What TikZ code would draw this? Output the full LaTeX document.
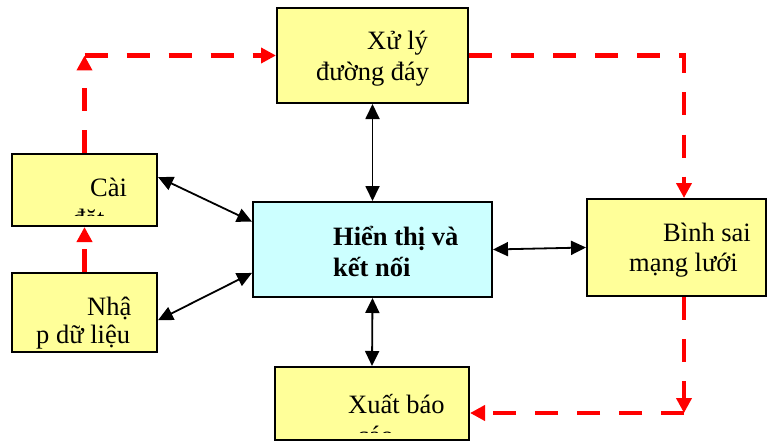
\documentclass[tikz,border=0pt]{standalone}
\usepackage{fontspec}
\setmainfont{Liberation Serif}
\usetikzlibrary{arrows.meta}
\definecolor{boxyellow}{HTML}{FFFF99}
\definecolor{boxcyan}{HTML}{CCFFFF}
\begin{document}
\begin{tikzpicture}[x=1pt,y=-1pt,
  box/.style={draw=black,line width=2pt,rectangle,inner sep=0pt},
  ybox/.style={box,fill=boxyellow},
  cbox/.style={box,fill=boxcyan},
  txt/.style={inner sep=0pt,anchor=base west,font=\fontsize{26.5}{30}\selectfont},
  btxt/.style={txt,font=\fontsize{26.5}{30}\selectfont\bfseries},
  link/.style={draw=black,line width=1.8pt,{Triangle[length=15pt,width=14pt]}-{Triangle[length=15pt,width=14pt]}},
  flow/.style={draw=red,line width=4.5pt,dash pattern=on 23pt off 19pt},
  flowtip/.style={flow,-{Triangle[length=15pt,width=15pt]}}
]
\useasboundingbox (0,0) rectangle (770,441);
% boxes
\node[ybox,minimum width=191pt,minimum height=95pt] (xuly) at (372.5,55.5) {};
\node[ybox,minimum width=145pt,minimum height=72pt] (cai) at (84.5,190) {};
\node[ybox,minimum width=145pt,minimum height=79pt] (nhap) at (84.5,312.5) {};
\node[cbox,minimum width=239pt,minimum height=95pt] (hien) at (372.5,249.5) {};
\node[ybox,minimum width=179pt,minimum height=97pt] (binh) at (676.5,247.5) {};
\node[ybox,minimum width=194pt,minimum height=73pt] (xuat) at (372,403.5) {};
% texts
\node[txt] (t1) at (367,50) {Xử lý};
\node[txt] (t2) at (316,81) {đường đáy};
\begin{scope}
  \clip (14,156) rectangle (155,215);
  \node[txt] (t3) at (90,196) {Cài};
  \node[txt] (t4) at (72,227) {đặt};
\end{scope}
\node[txt] (t5) at (87,315) {Nhậ};
\node[txt] (t6) at (36,343) {p dữ liệu};
\node[btxt] (t7) at (333,245) {Hiển thị và};
\node[btxt] (t8) at (333,276) {kết nối};
\node[txt] (t9) at (663,241) {Bình sai};
\node[txt] (t10) at (629,271) {mạng lưới};
\begin{scope}
  \clip (277,369) rectangle (467,432);
  \node[txt] (t11) at (348,413) {Xuất báo};
  \node[txt] (t12) at (357,444) {cáo};
\end{scope}
% black links
\draw[link] (xuly.south) -- (hien.north);
\draw[link] (cai.10) -- (hien.167);
\draw[link] (nhap.-6) -- (hien.191);
\draw[link] (hien.east) -- (binh.west);
\draw[link] (hien.south) -- (xuat.north);
% red flow
\coordinate (c1) at (cai.north |- xuly.west);
\coordinate (c2) at (684,55.5);
\coordinate (c3) at (684,413);
\draw[flowtip] (nhap.north) -- (cai.south);
\draw[flowtip] (cai.north) -- (c1);
\draw[flowtip] (c1) -- (xuly.west);
\draw[flowtip] (xuly.east) -- (c2) -- (c2 |- binh.north);
\draw[flowtip] (c2 |- binh.south) -- (c3);
\draw[flowtip] (c3) -- (xuat.east |- c3);
\end{tikzpicture}
\end{document}
